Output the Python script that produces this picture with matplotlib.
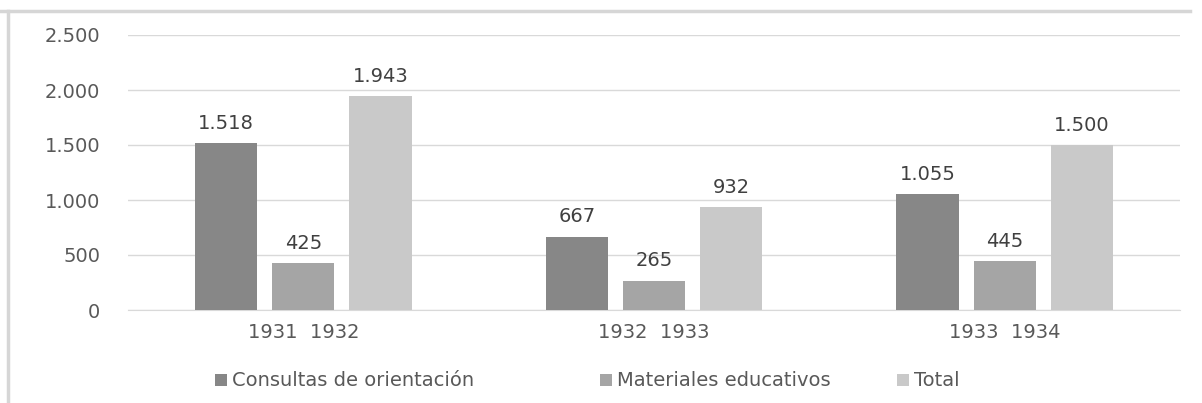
import matplotlib
matplotlib.use("Agg")
import matplotlib.pyplot as plt
import numpy as np
from matplotlib.lines import Line2D
from matplotlib.patches import Rectangle

# data
periods = ["1931  1932", "1932  1933", "1933  1934"]
series_names = ["Consultas de orientación", "Materiales educativos", "Total"]
consultas = [1518, 667, 1055]
materiales = [425, 265, 445]
total = [1943, 932, 1500]
y_ticks = [0, 500, 1000, 1500, 2000, 2500]

colors = ["#878787", "#A5A5A5", "#C9C9C9"]
TXT = "#595959"
FS = 14
W, H = 1202, 403


def fmt(v):
    return f"{v:,}".replace(",", ".")


fig = plt.figure(figsize=(W / 100, H / 100), dpi=100)
fig.patch.set_facecolor("white")
ax = fig.add_axes([128 / W, 1 - 310 / H, 1052 / W, 275 / H])

x = np.arange(len(periods))
bw = 0.177
step = 0.22
for i, (vals, c, name) in enumerate(zip([consultas, materiales, total], colors, series_names)):
    pos = x + (i - 1) * step
    bars = ax.bar(pos, vals, width=bw, color=c, label=name, zorder=3)
    for b, v in zip(bars, vals):
        ax.text(b.get_x() + b.get_width() / 2, v + 95, fmt(v), ha="center",
                va="bottom", fontsize=FS, color="#404040")

ax.set_xlim(-0.5, 2.5)
ax.set_ylim(0, 2500)
ax.set_yticks(y_ticks)
ax.set_yticklabels([fmt(t) for t in y_ticks])
ax.set_xticks(x)
ax.set_xticklabels(periods)
ax.tick_params(axis="y", length=0, pad=20, labelsize=FS, labelcolor=TXT)
ax.tick_params(axis="x", length=0, pad=9, labelsize=FS, labelcolor=TXT)
ax.grid(axis="y", color="#D9D9D9", lw=1.0, zorder=0)
for s in ["top", "right", "left"]:
    ax.spines[s].set_visible(False)
ax.spines["bottom"].set_color("#D9D9D9")

# legend, laid out like the original (square + label per series)
leg_x = [215, 600, 897]
leg_y = 380
sq = 12
for lx, c, name in zip(leg_x, colors, series_names):
    fig.add_artist(Rectangle((lx / W, 1 - (leg_y + sq / 2) / H), sq / W, sq / H,
                             transform=fig.transFigure, fc=c, ec="none"))
    fig.text((lx + sq + 5) / W, 1 - leg_y / H, name, ha="left", va="center",
             fontsize=FS, color=TXT)

# outer frame of the chart area
fig.add_artist(Line2D([0, 0.99], [0.973, 0.973], color="#D6D6D6", lw=2.5,
                      transform=fig.transFigure))
fig.add_artist(Line2D([0.0066, 0.0066], [0, 0.973], color="#D6D6D6", lw=2.5,
                      transform=fig.transFigure))

fig.savefig("out.png", dpi=100, facecolor="white")
